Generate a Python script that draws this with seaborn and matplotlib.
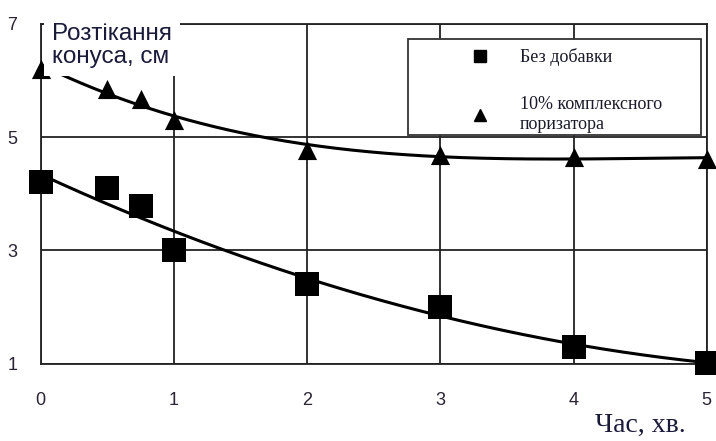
import numpy as np
import pandas as pd
import matplotlib
matplotlib.use("Agg")
import matplotlib.pyplot as plt
import seaborn as sns
from matplotlib.lines import Line2D
from matplotlib.patches import Rectangle

# data
time_sq = [0, 0.5, 0.75, 1, 2, 3, 4, 5]
val_sq = [4.2, 4.1, 3.78, 3.0, 2.4, 2.0, 1.3, 1.02]
time_tr = [0, 0.5, 0.75, 1, 2, 3, 4, 5]
val_tr = [6.2, 5.85, 5.67, 5.3, 4.78, 4.68, 4.65, 4.62]
series_names = ["Без добавки", "10% комплексного\nпоризатора"]
x_ticks = [0, 1, 2, 3, 4, 5]
y_ticks = [1, 3, 5, 7]

sns.set_theme(style="white")
plt.rcParams['font.family'] = ['Liberation Sans', 'DejaVu Sans']

fig = plt.figure(figsize=(7.16, 4.41), dpi=100)
ax = fig.add_axes([0.057, 0.175, 0.930, 0.771])

# trend lines
xs = np.linspace(0, 5, 200)
c_sq = np.polyfit(time_sq, val_sq, 2)
c_tr = np.polyfit(time_tr, val_tr, 3)
trend = pd.DataFrame({"x": xs, "sq": np.polyval(c_sq, xs), "tr": np.polyval(c_tr, xs)})
sns.lineplot(data=trend, x="x", y="sq", ax=ax, color="black", lw=2.2, zorder=3)
sns.lineplot(data=trend, x="x", y="tr", ax=ax, color="black", lw=2.2, zorder=3)

df_sq = pd.DataFrame({"x": time_sq, "y": val_sq})
df_tr = pd.DataFrame({"x": time_tr, "y": val_tr})
sns.scatterplot(data=df_sq, x="x", y="y", ax=ax, marker="s", s=300, color="black",
                edgecolor="black", linewidth=0, zorder=4, clip_on=False)
sns.scatterplot(data=df_tr, x="x", y="y", ax=ax, marker="^", s=190, color="black",
                edgecolor="black", linewidth=0, zorder=4, clip_on=False)

ax.set_xlim(0, 5)
ax.set_ylim(1, 7)
ax.set_xticks(x_ticks)
ax.set_yticks(y_ticks)
ax.grid(True, color="#222222", lw=1.3)
for s in ax.spines.values():
    s.set_color("#222222")
    s.set_linewidth(1.3)
ax.tick_params(axis="both", which="both", direction="out", length=5, width=1.3,
               color="#222222", labelsize=13, labelcolor="#2a2333")
ax.tick_params(axis="x", pad=15)
ax.tick_params(axis="y", pad=12)
ax.set_xlabel("")
ax.set_ylabel("")

# legend box
ax.add_patch(Rectangle((0.551, 0.674), 0.440, 0.282, transform=ax.transAxes,
                       facecolor="white", edgecolor="#333333", lw=1.3, zorder=5))
handles = [Line2D([], [], marker="s", color="black", ls="none", ms=8),
           Line2D([], [], marker="^", color="black", ls="none", ms=8)]
leg = ax.legend(handles, series_names, loc="upper left", bbox_to_anchor=(0.632, 0.929),
                frameon=False, prop={"family": "Liberation Serif", "size": 13},
                borderpad=0, labelspacing=1.67, handletextpad=1.22,
                borderaxespad=0, handlelength=2)
leg.set_zorder(6)
for t in leg.get_texts():
    t.set_color("#1a1a2a")

# axis titles
fig.text(0.073, 0.947, "Розтікання\nконуса, см", ha="left", va="top", fontsize=17.5,
         color="#1a1a3a", linespacing=1.05,
         bbox=dict(facecolor="white", edgecolor="none", pad=6), zorder=10)
fig.text(0.895, 0.008, "Час, хв.", ha="center", va="bottom", fontsize=20,
         family="Liberation Serif", color="#1a1a3a")

fig.savefig("out.png", dpi=100)
